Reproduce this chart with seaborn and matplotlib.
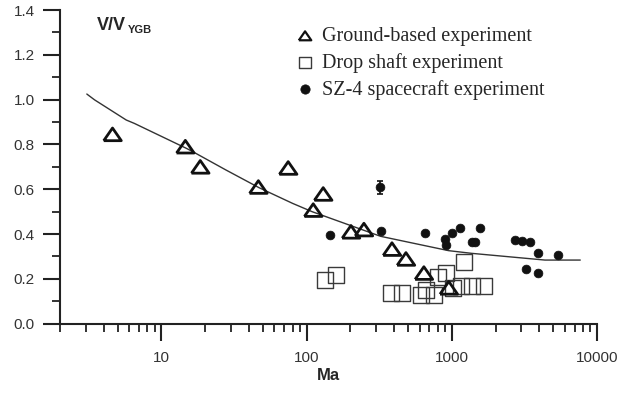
import numpy as np
import pandas as pd
import matplotlib
matplotlib.use("Agg")
import matplotlib.pyplot as plt
import seaborn as sns
from matplotlib.ticker import MultipleLocator, LogLocator, NullFormatter, FixedLocator, FixedFormatter

# ---- data ----
ground_ma = [4.6, 14.6, 18.5, 46.5, 74.6, 111, 130, 202, 248, 387, 483, 642, 953]
ground_v = [0.845, 0.79, 0.70, 0.61, 0.695, 0.507, 0.579, 0.41, 0.42, 0.333, 0.289, 0.226, 0.16]

drop_ma = [134, 160, 379, 456, 610, 660, 750, 802, 910, 1020, 1150, 1208, 1370, 1660]
drop_v = [0.195, 0.218, 0.136, 0.136, 0.128, 0.15, 0.128, 0.207, 0.226, 0.158, 0.17, 0.277, 0.17, 0.17]

sz_ma = [144, 320, 323, 652, 895, 905, 1004, 1130, 1380, 1450, 1556, 2713, 3044, 3473, 3917, 5353, 3253, 3917]
sz_v = [0.396, 0.609, 0.415, 0.406, 0.377, 0.35, 0.406, 0.426, 0.366, 0.366, 0.426, 0.374, 0.37, 0.366, 0.314, 0.307, 0.244, 0.228]
sz_err = [0, 0.03, 0, 0, 0, 0, 0, 0, 0, 0, 0, 0, 0, 0, 0, 0, 0, 0]

fit_ma = [3.06, 3.46, 5.72, 6.5, 14.8, 16.4, 27.8, 47, 80, 109, 323, 950, 1370, 2750, 4380, 7670]
fit_v = [1.025, 0.999, 0.909, 0.894, 0.783, 0.768, 0.686, 0.607, 0.537, 0.50, 0.39, 0.326, 0.314, 0.296, 0.284, 0.284]

x_ticks = [10, 100, 1000, 10000]
x_ticklabels = ["10", "100", "1000", "10000"]
legend_labels = ["Ground-based experiment", "Drop shaft experiment", "SZ-4 spacecraft experiment"]

# ---- style ----
sns.set_style("ticks")
plt.rcParams['font.family'] = ['Liberation Sans', 'DejaVu Sans']

W, H = 622, 394
fig = plt.figure(figsize=(W / 100, H / 100), dpi=100)
ax = fig.add_axes([60 / W, 1 - 323.7 / H, (597 - 60) / W, (323.7 - 10) / H])

ground = pd.DataFrame({"Ma": ground_ma, "V": ground_v})
drop = pd.DataFrame({"Ma": drop_ma, "V": drop_v})
sz = pd.DataFrame({"Ma": sz_ma, "V": sz_v, "err": sz_err})
fit = pd.DataFrame({"Ma": fit_ma, "V": fit_v})

tri = [(-1, -0.72), (1, -0.72), (0, 0.72), (-1, -0.72)]

sns.lineplot(data=fit, x="Ma", y="V", ax=ax, color="#333333", lw=1.0, legend=False, zorder=2)
sns.scatterplot(data=drop, x="Ma", y="V", ax=ax, marker="s", s=135, facecolor="none",
                edgecolor="#3a3a3a", linewidth=1.0, label=legend_labels[1], zorder=3)
sns.scatterplot(data=ground, x="Ma", y="V", ax=ax, marker=tri, s=160, facecolor="none",
                edgecolor="#111111", linewidth=2.0, label=legend_labels[0], zorder=4)
sns.scatterplot(data=sz, x="Ma", y="V", ax=ax, marker="o", s=40, color="#111111",
                edgecolor="#111111", linewidth=0.5, label=legend_labels[2], zorder=5)
err = sz[sz["err"] > 0]
ax.errorbar(err["Ma"], err["V"], yerr=err["err"], fmt="none", ecolor="#111111",
            elinewidth=1.2, capsize=2.5, capthick=1.2, zorder=5)

ax.set_xscale("log")
ax.set_xlim(2, 10000)
ax.set_ylim(0, 1.4)

for s in ["top", "right"]:
    ax.spines[s].set_visible(False)
for s in ["left", "bottom"]:
    ax.spines[s].set_linewidth(1.5)
    ax.spines[s].set_color("#222222")

ax.yaxis.set_major_locator(MultipleLocator(0.2))
ax.yaxis.set_minor_locator(MultipleLocator(0.1))
ax.set_yticklabels([f"{v:.1f}" for v in ax.get_yticks()])
ax.xaxis.set_major_locator(FixedLocator(x_ticks))
ax.xaxis.set_major_formatter(FixedFormatter(x_ticklabels))
ax.xaxis.set_minor_locator(LogLocator(base=10, subs=np.arange(2, 10), numticks=20))
ax.xaxis.set_minor_formatter(NullFormatter())

ax.tick_params(axis="both", which="major", direction="out", length=12, width=1.5,
               color="#222222", labelsize=11, labelcolor="#333333")
ax.tick_params(axis="both", which="minor", direction="out", length=5.5, width=1.3, color="#222222")
ax.tick_params(axis="y", which="major", pad=6)
ax.tick_params(axis="x", which="major", pad=8)

ax.set_xlabel("Ma", fontsize=12, fontweight="bold", labelpad=2)
ax.set_ylabel("")
fig.text(97 / W, 1 - 25 / H, "V/V", fontsize=13, fontweight="bold", va="center", ha="left")
fig.text(128 / W, 1 - 30 / H, "YGB", fontsize=8, fontweight="bold", va="center", ha="left")

handles, labels = ax.get_legend_handles_labels()
order = [labels.index(l) for l in legend_labels]
leg = ax.legend([handles[i] for i in order], [labels[i] for i in order],
                loc="upper left", bbox_to_anchor=(296 / W, 1 - 27 / H),
                bbox_transform=fig.transFigure, frameon=False,
                prop={"family": "Liberation Serif", "size": 14.5},
                handletextpad=0.4, labelspacing=0.34, handlelength=0.9,
                borderaxespad=0, borderpad=0)
legend_sizes = [80, 65, 45]
legend_lw = [1.6, 1.0, 0.5]
for h, sz_, lw_ in zip(leg.legend_handles, legend_sizes, legend_lw):
    h.set_sizes([sz_])
    h.set_linewidth(lw_)

fig.savefig("out.png", dpi=100)
